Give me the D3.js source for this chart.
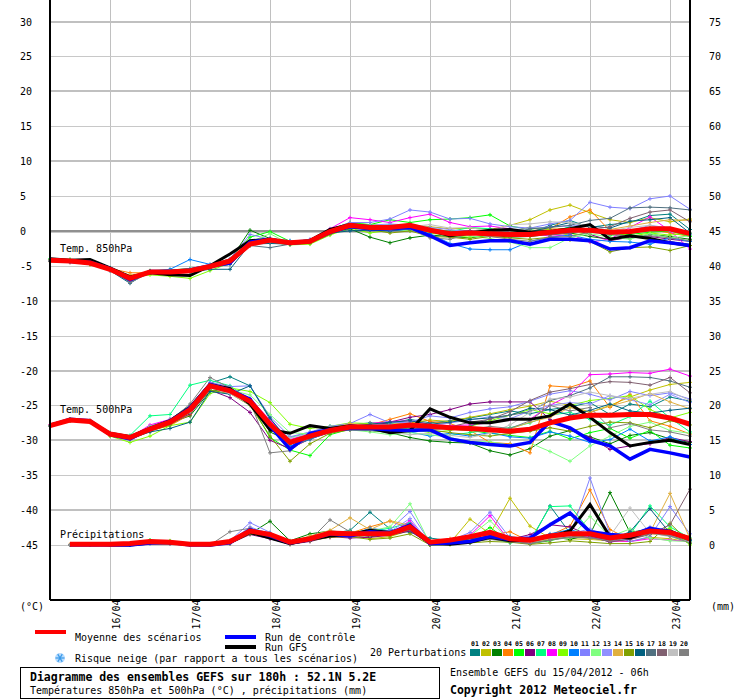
<!DOCTYPE html>
<html><head><meta charset="utf-8">
<script src="https://cdn.jsdelivr.net/npm/d3@7/dist/d3.min.js"></script>
<style>
html,body{margin:0;padding:0;background:#fff;}
svg{display:block;}
text{font-family:"DejaVu Sans Mono",monospace;font-size:10px;fill:#000;}
</style></head>
<body><svg id="c" width="740" height="700"></svg>
<script>
// ---- data ----
const hours = [0,6,12,18,24,30,36,42,48,54,60,66,72,78,84,90,96,102,108,114,120,126,132,138,144,150,156,162,168,174,180,186,192];
const dateLabels = ["16/04","17/04","18/04","19/04","20/04","21/04","22/04","23/04"];
const dateHours = [18,42,66,90,114,138,162,186];
const leftTicks = [30,25,20,15,10,5,0,-5,-10,-15,-20,-25,-30,-35,-40,-45];
const rightTicks = [75,70,65,60,55,50,45,40,35,30,25,20,15,10,5,0];
const pertNames = ["01","02","03","04","05","06","07","08","09","10","11","12","13","14","15","16","17","18","19","20"];
const pertColors = ["#008080","#c0c000","#008000","#ff8000","#00ff00","#800080","#00ff80","#ff00ff","#80ff00","#0080ff","#8080ff","#80ff80","#9090ff","#e0b040","#80a000","#006080","#507080","#806070","#c0c0c0","#808080"];

const mean850 = [-4.2,-4.3,-4.6,-5.5,-6.8,-5.9,-5.9,-5.7,-5.1,-4.3,-1.9,-1.3,-1.7,-1.5,-0.1,0.8,0.5,0.5,0.8,0.1,-0.4,-0.3,-0.4,-0.5,-0.5,-0.2,0.1,0.1,-0.2,-0.1,0.3,0.3,-0.4];
const ctrl850 = [-4.1,-4.4,-4.5,-5.4,-7.0,-5.8,-5.8,-5.6,-5.0,-4.6,-1.6,-1.2,-1.8,-1.5,-0.2,0.6,0.3,0.3,0.5,-0.7,-2.1,-1.7,-1.4,-1.4,-1.9,-1.2,-1.2,-1.4,-2.6,-2.4,-1.4,-1.7,-2.1];
const gfs850 = [-4.0,-4.2,-4.1,-5.3,-6.6,-6.0,-6.3,-6.4,-5.0,-3.3,-1.4,-1.2,-1.7,-1.4,0.2,0.9,0.6,0.4,0.6,0.1,-0.7,-0.3,0.1,0.2,-0.2,-0.1,0.3,0.9,-1.2,-0.7,-1.1,-1.7,-2.1];
const pert850 = [
[-4.3,-4.4,-4.7,-5.6,-7.3,-5.8,-5.7,-5.5,-5.2,-4.8,-1.8,-1.6,-1.9,-1.7,-0.3,0.4,0.2,0.6,1.0,0.3,-0.2,-0.5,0.0,0.3,-0.3,0.8,1.5,0.5,0.9,1.2,2.2,2.4,0.2],
[-4.2,-4.3,-4.6,-5.4,-6.5,-5.9,-6.0,-5.8,-5.2,-4.4,-2.0,-1.4,-1.6,-1.4,0.0,1.0,0.9,0.8,0.9,0.6,0.3,0.4,0.2,0.8,1.6,3.0,3.7,2.6,1.6,1.2,1.9,1.3,1.7],
[-4.1,-4.3,-4.7,-5.6,-6.7,-5.9,-5.8,-5.6,-5.3,-4.2,0.1,-1.1,-1.7,-1.6,-0.4,0.3,-0.9,-1.7,-1.0,-0.6,-0.8,-1.0,-0.6,-0.9,-0.8,-0.5,-0.3,-0.8,-1.2,-1.0,-0.5,-0.8,-1.2],
[-4.4,-4.5,-4.8,-5.4,-6.0,-6.0,-5.9,-5.8,-5.0,-4.5,-1.9,-1.5,-1.8,-1.5,-0.3,0.6,0.4,0.2,0.4,-0.2,-0.6,-0.4,-0.2,-0.6,-0.4,0.3,2.0,3.0,0.0,-0.4,0.2,-0.3,-0.8],
[-4.0,-4.1,-4.4,-5.3,-6.6,-5.7,-5.6,-5.4,-4.9,-4.0,-0.9,-0.1,-1.5,-1.3,0.2,1.2,0.9,1.6,1.2,1.6,1.7,1.9,2.3,0.7,0.2,-0.4,0.0,0.2,-0.6,-0.5,-0.2,0.0,-0.8],
[-4.3,-4.4,-4.6,-5.6,-6.9,-6.0,-5.9,-5.6,-5.1,-4.3,-1.7,-1.3,-1.6,-1.4,-0.1,0.9,0.3,0.6,0.9,0.1,-0.1,0.0,-0.3,-0.1,0.5,0.0,0.4,-0.5,-1.4,-0.9,-0.8,-1.2,-1.5],
[-4.0,-4.2,-4.5,-5.4,-6.8,-5.9,-5.7,-5.5,-5.0,-4.4,-2.1,-1.3,-1.8,-1.6,-0.2,0.7,0.5,0.9,0.6,0.4,-0.1,0.5,0.3,-0.3,-0.6,-0.2,0.6,0.2,-0.5,-0.1,0.5,0.1,-0.6],
[-4.2,-4.4,-4.6,-5.5,-6.9,-5.9,-5.8,-5.6,-5.3,-4.1,-1.7,-1.3,-1.6,-1.3,0.3,1.9,1.6,1.2,1.9,2.4,1.2,0.6,0.7,0.3,-0.2,-0.8,-0.5,-1.6,-1.2,0.5,2.0,0.0,-2.6],
[-4.3,-4.4,-4.8,-5.6,-6.6,-6.3,-6.5,-6.8,-5.7,-4.6,-2.0,-1.6,-2.0,-1.9,-0.6,0.4,-0.3,0.1,0.5,-0.3,-0.7,-0.9,-0.6,-0.2,0.5,0.2,-0.7,-0.2,0.2,-0.8,-0.3,-0.6,-0.3],
[-4.1,-4.3,-4.5,-5.3,-6.8,-5.8,-5.5,-4.1,-4.8,-4.3,-1.5,-1.1,-1.4,-1.5,0.0,0.7,0.3,0.0,0.2,-0.4,-1.8,-2.6,-2.7,-2.7,-1.5,-0.9,-0.6,-1.2,-1.5,-1.6,-1.9,-1.0,-1.5],
[-4.2,-4.3,-4.5,-5.4,-6.7,-5.8,-5.9,-5.5,-4.9,-4.0,-0.5,-1.2,-1.5,-1.2,0.2,1.2,1.2,1.7,3.0,2.7,1.7,1.8,1.0,0.6,0.4,1.0,1.5,4.1,3.4,3.2,4.6,5.0,3.1],
[-4.0,-4.1,-4.5,-5.4,-6.9,-6.0,-5.8,-5.7,-5.1,-4.5,-1.6,-0.4,-1.9,-1.7,-0.4,0.5,0.6,0.3,0.0,0.2,-0.4,-0.7,-1.1,-1.6,-2.4,-2.4,-1.0,-0.4,-0.9,-1.2,-0.4,-1.0,-0.7],
[-4.3,-4.5,-4.7,-5.5,-6.9,-6.0,-5.9,-5.5,-5.1,-4.3,-1.8,-1.5,-1.6,-1.4,0.0,1.0,0.8,1.0,0.8,0.5,0.2,-0.2,0.0,0.2,0.3,0.6,0.7,0.9,-0.4,0.0,0.8,0.4,-0.5],
[-4.2,-4.5,-4.8,-5.6,-6.3,-6.0,-6.0,-5.8,-5.2,-4.4,-2.1,-1.5,-1.7,-1.6,-0.2,0.7,0.6,0.3,0.5,0.0,-0.3,-0.3,-0.7,-0.3,0.0,0.4,0.3,-0.2,0.2,0.7,1.2,1.6,1.5],
[-4.1,-4.3,-4.7,-5.5,-6.8,-6.0,-5.9,-5.6,-5.1,-4.2,-2.0,-1.6,-1.9,-1.8,-0.5,0.5,0.2,-0.3,0.0,-0.8,-0.9,-1.2,-0.8,-1.0,-1.2,-0.9,-1.3,-1.5,-3.0,-2.4,-2.3,-2.8,-2.1],
[-4.3,-4.4,-4.6,-5.7,-7.5,-5.8,-5.7,-5.9,-5.5,-5.5,-1.9,-1.8,-1.9,-1.6,-0.3,0.0,0.1,0.0,0.3,-0.1,-0.5,-0.1,-0.4,-0.6,-0.1,0.5,1.2,0.7,0.4,1.4,1.6,1.9,-0.3],
[-4.2,-4.3,-4.7,-5.5,-7.3,-5.9,-6.0,-5.7,-5.3,-4.8,-2.1,-2.4,-1.9,-1.6,-0.1,0.6,0.3,0.2,0.6,0.0,-0.2,-0.1,-0.5,-0.4,0.3,0.5,0.8,1.5,1.8,3.3,3.4,3.3,3.0],
[-4.3,-4.4,-4.6,-5.5,-7.0,-5.9,-6.0,-5.7,-5.1,-4.3,-1.8,-1.4,-1.8,-1.5,-0.1,0.6,0.5,0.6,0.9,0.3,-0.5,-0.3,-0.2,0.0,-0.4,-0.6,-0.3,0.2,0.6,1.8,2.7,3.0,1.3],
[-4.2,-4.4,-4.6,-5.6,-7.1,-5.9,-5.8,-5.7,-5.2,-4.5,-1.9,-1.4,-1.7,-1.5,-0.2,0.7,0.5,0.4,0.6,0.9,0.4,0.5,-0.1,0.9,1.0,1.3,1.2,0.7,0.0,0.5,0.8,0.2,-0.2],
[-4.2,-4.3,-4.6,-5.5,-7.4,-6.0,-5.9,-5.6,-5.0,-4.4,-1.8,-1.6,-1.7,-1.5,0.0,0.5,0.3,0.1,0.3,-1.0,-1.2,-0.4,-0.8,-1.2,-1.5,-0.9,-0.8,-0.2,-0.5,-0.8,-0.7,-1.0,-1.4]
];

const mean500 = [-27.9,-27.1,-27.3,-29.1,-29.6,-28.4,-27.4,-25.6,-22.2,-22.9,-24.4,-27.7,-30.3,-29.4,-28.6,-28.1,-28.1,-28.1,-27.8,-28.0,-28.2,-28.3,-28.5,-28.7,-28.4,-27.5,-26.8,-26.4,-26.4,-26.3,-26.3,-26.8,-27.7];
const ctrl500 = [-27.9,-27.0,-27.2,-29.2,-29.8,-28.3,-27.3,-25.4,-22.0,-22.8,-24.1,-27.9,-31.3,-29.0,-28.5,-28.3,-28.3,-28.5,-28.6,-28.5,-29.8,-30.3,-30.6,-30.8,-30.3,-27.3,-28.2,-30.0,-30.8,-32.7,-31.3,-31.8,-32.4];
const gfs500 = [-27.8,-27.1,-27.3,-29.0,-29.5,-28.3,-27.2,-25.3,-22.0,-22.6,-24.8,-28.5,-29.0,-27.9,-28.3,-27.9,-28.2,-28.9,-28.6,-25.5,-26.7,-27.5,-27.5,-27.0,-27.0,-26.5,-24.8,-26.7,-28.9,-30.8,-30.3,-30.0,-30.6];
const pert500 = [
[-27.9,-27.0,-27.2,-29.0,-29.4,-28.0,-27.0,-25.0,-21.8,-20.9,-22.2,-27.0,-30.0,-29.0,-28.3,-27.8,-27.5,-27.6,-27.0,-27.5,-27.2,-26.8,-26.3,-25.8,-26.2,-25.6,-25.2,-24.6,-26.3,-24.8,-25.2,-23.8,-24.4],
[-27.8,-27.1,-27.4,-29.2,-29.8,-28.6,-27.6,-26.0,-22.5,-23.0,-24.6,-27.5,-30.6,-29.6,-28.8,-28.3,-28.0,-27.7,-27.5,-27.1,-27.3,-26.7,-26.2,-25.6,-25.1,-24.4,-25.0,-26.0,-25.0,-23.8,-22.8,-22.0,-21.7],
[-27.9,-27.2,-27.3,-29.1,-29.7,-28.4,-27.5,-26.5,-23.0,-22.6,-24.2,-28.8,-30.2,-29.2,-28.7,-28.4,-28.6,-28.9,-29.6,-30.1,-30.3,-30.4,-31.5,-32.1,-31.2,-29.4,-28.6,-29.5,-30.5,-29.3,-28.9,-29.8,-30.3],
[-27.9,-27.1,-27.3,-29.3,-29.6,-28.6,-27.9,-26.3,-22.4,-23.1,-24.8,-27.2,-30.6,-29.5,-28.2,-28.0,-27.8,-27.0,-26.2,-27.3,-27.6,-28.6,-30.3,-30.5,-31.8,-22.2,-22.4,-21.5,-25.3,-23.4,-27.2,-28.0,-29.1],
[-27.9,-27.0,-27.2,-28.9,-29.5,-28.2,-27.2,-25.4,-22.0,-22.7,-24.6,-29.6,-31.4,-32.2,-29.2,-28.4,-28.2,-27.7,-27.8,-28.1,-28.4,-28.6,-29.0,-29.3,-29.6,-28.7,-29.8,-28.9,-28.3,-29.7,-28.6,-30.7,-31.1],
[-27.9,-27.1,-27.3,-29.2,-29.7,-28.6,-27.7,-26.2,-22.8,-23.9,-26.0,-30.0,-31.2,-29.8,-28.9,-28.3,-28.0,-27.4,-26.7,-26.3,-25.6,-24.8,-24.5,-24.5,-24.5,-27.0,-28.5,-29.6,-31.3,-30.8,-30.5,-29.6,-30.2],
[-27.9,-27.0,-27.3,-29.0,-29.3,-26.5,-26.3,-22.1,-21.4,-22.2,-24.2,-28.1,-29.6,-28.9,-28.0,-27.9,-27.9,-28.3,-27.6,-28.8,-29.3,-28.9,-28.5,-28.2,-27.5,-26.4,-26.0,-27.0,-27.8,-26.6,-24.4,-26.8,-28.8],
[-27.8,-27.1,-27.2,-29.0,-29.6,-27.8,-27.0,-25.2,-22.0,-22.5,-24.0,-27.1,-29.9,-29.0,-28.2,-27.8,-27.6,-27.3,-27.2,-27.7,-27.9,-27.8,-27.5,-27.0,-27.0,-25.0,-23.5,-20.6,-20.5,-20.3,-20.4,-19.8,-20.8],
[-27.9,-27.2,-27.4,-29.4,-30.3,-29.4,-27.9,-27.4,-23.3,-22.5,-23.0,-24.6,-27.7,-28.3,-28.0,-27.5,-27.6,-27.9,-28.4,-28.9,-28.6,-28.0,-27.2,-26.4,-25.6,-26.2,-25.0,-24.3,-24.0,-23.6,-25.6,-26.8,-26.0],
[-27.9,-27.1,-27.3,-29.2,-29.7,-28.4,-27.3,-25.5,-22.1,-23.0,-24.5,-28.0,-30.8,-29.9,-28.7,-28.3,-28.6,-28.2,-28.8,-29.4,-29.0,-29.4,-28.9,-29.5,-29.7,-28.8,-29.4,-30.3,-29.9,-28.4,-30.1,-29.5,-30.6],
[-27.9,-27.1,-27.3,-29.0,-29.5,-28.1,-27.1,-25.3,-21.7,-22.3,-22.2,-26.6,-29.5,-28.8,-28.0,-27.6,-26.3,-27.5,-27.4,-26.5,-26.8,-26.0,-25.5,-25.2,-24.4,-23.4,-22.9,-23.4,-24.2,-23.0,-23.6,-23.2,-24.1],
[-27.9,-27.0,-27.2,-29.1,-29.6,-28.0,-27.2,-25.8,-22.5,-22.8,-23.5,-26.3,-28.9,-29.1,-28.5,-28.5,-28.8,-29.2,-28.9,-29.2,-29.6,-30.2,-30.2,-30.7,-30.4,-31.6,-33.0,-30.8,-29.4,-28.0,-27.4,-28.6,-29.0],
[-27.9,-27.1,-27.3,-29.1,-29.6,-28.2,-27.2,-25.5,-22.0,-22.6,-24.3,-27.4,-30.1,-29.2,-28.4,-28.0,-27.7,-27.8,-27.6,-27.9,-27.5,-27.1,-26.6,-26.9,-25.8,-25.0,-24.6,-24.8,-23.6,-24.2,-24.9,-23.4,-24.6],
[-27.9,-27.1,-27.3,-29.2,-29.7,-28.5,-27.5,-25.8,-22.3,-22.8,-24.5,-27.8,-30.4,-29.3,-28.3,-27.6,-27.9,-28.1,-27.9,-28.3,-28.1,-28.2,-28.9,-28.4,-27.4,-26.7,-25.3,-26.0,-25.1,-24.3,-23.3,-24.5,-25.5],
[-27.9,-27.1,-27.3,-29.3,-29.9,-28.7,-27.8,-26.0,-22.8,-23.3,-25.0,-29.4,-33.0,-30.5,-29.0,-28.5,-28.5,-28.4,-28.2,-28.5,-28.9,-29.2,-29.4,-29.0,-28.7,-28.2,-28.7,-28.0,-27.4,-27.5,-28.2,-27.2,-27.8],
[-27.9,-27.1,-27.3,-29.2,-29.8,-28.8,-28.3,-27.4,-23.0,-23.4,-22.2,-26.8,-30.4,-29.4,-28.5,-28.0,-27.7,-27.4,-27.2,-27.7,-27.4,-27.0,-26.8,-26.4,-25.4,-25.6,-26.4,-25.7,-24.8,-25.8,-26.1,-25.7,-25.4],
[-27.9,-27.1,-27.3,-29.1,-29.6,-28.5,-27.6,-25.9,-22.4,-22.9,-24.7,-28.2,-31.0,-29.8,-28.8,-28.4,-28.3,-28.2,-28.0,-28.2,-28.3,-28.0,-26.9,-26.4,-25.9,-24.3,-23.6,-22.5,-20.9,-20.9,-21.0,-21.5,-22.4],
[-27.9,-27.1,-27.3,-29.1,-29.6,-28.4,-27.4,-25.7,-22.2,-23.0,-24.6,-28.3,-30.2,-29.3,-28.6,-28.2,-28.1,-28.0,-28.2,-28.4,-28.1,-27.4,-27.0,-25.9,-24.3,-23.1,-22.6,-22.0,-21.6,-21.7,-22.1,-21.0,-23.2],
[-27.9,-27.1,-27.4,-29.2,-29.9,-28.5,-27.3,-25.9,-22.5,-23.3,-24.9,-28.1,-29.7,-29.0,-28.3,-28.0,-28.2,-28.8,-29.2,-29.0,-29.3,-29.6,-29.0,-27.8,-26.0,-24.1,-23.8,-23.1,-23.6,-24.0,-23.4,-23.0,-24.3],
[-27.9,-27.1,-27.3,-29.2,-29.8,-28.2,-27.2,-24.8,-21.0,-22.5,-24.4,-31.8,-31.5,-29.4,-28.7,-28.5,-28.6,-28.7,-28.6,-28.5,-28.3,-28.5,-28.0,-28.3,-27.2,-25.0,-25.8,-25.3,-28.2,-27.6,-28.5,-28.8,-29.4]
];

const meanPr = [null,0.1,0.1,0.1,0.2,0.5,0.4,0.1,0.1,0.5,2.0,1.5,0.4,0.9,1.7,1.6,1.6,1.6,2.6,0.4,0.7,1.2,1.8,0.9,0.7,1.3,1.6,1.6,1.0,1.4,2.0,1.8,0.9];
const ctrlPr = [null,0.0,0.0,0.0,0.0,0.3,0.4,0.0,0.0,0.3,2.2,1.3,0.3,0.8,1.6,1.3,1.9,1.7,2.9,0.2,0.3,0.5,1.2,0.8,1.0,2.9,4.6,1.9,1.5,1.3,2.4,1.9,0.9];
const gfsPr = [null,0.1,0.2,0.0,0.0,0.3,0.3,0.1,0.0,0.4,1.8,1.0,0.2,0.8,1.3,1.5,2.1,1.8,2.5,0.2,0.1,0.4,1.1,0.6,0.7,1.2,2.0,5.8,1.2,1.0,2.1,2.0,0.8];
const pertPr = [
[null,0.0,0.0,0.1,0.1,0.4,0.3,0.0,0.0,0.6,1.8,1.4,0.3,1.0,1.6,2.1,4.7,2.3,1.8,1.0,0.6,0.8,1.2,1.2,0.4,5.6,1.7,1.0,0.6,1.2,2.0,1.3,0.5],
[null,0.0,0.0,0.0,0.2,0.5,0.3,0.0,0.0,0.3,1.9,1.2,0.2,0.6,1.4,1.5,0.9,1.2,2.1,0.1,0.3,3.7,1.6,6.7,2.7,1.0,0.9,0.8,0.6,0.5,1.1,0.9,0.4],
[null,0.0,0.1,0.0,0.1,0.6,0.5,0.0,0.0,0.4,1.6,3.4,0.6,1.6,2.0,1.8,1.2,1.5,2.2,0.0,0.2,0.5,1.4,0.4,0.5,1.2,0.8,1.5,7.5,1.8,2.3,1.5,0.6],
[null,0.1,0.0,0.1,0.0,0.3,0.3,0.1,0.0,0.5,1.7,1.4,0.4,0.8,1.3,1.7,2.6,3.4,2.4,0.3,0.9,0.6,1.4,1.9,0.5,1.4,2.7,7.9,2.2,0.8,1.6,1.4,0.7],
[null,0.0,0.0,0.0,0.0,0.7,0.5,0.0,0.0,0.4,1.9,1.7,0.3,1.1,1.8,1.4,1.8,1.6,3.0,0.0,0.4,0.8,2.5,0.5,0.2,0.6,1.3,1.1,0.9,1.3,2.2,1.5,0.2],
[null,0.0,0.0,0.0,0.0,0.4,0.2,0.0,0.0,0.2,1.5,0.9,0.1,0.5,1.2,1.0,1.1,1.4,2.0,0.1,0.2,0.4,1.0,0.8,1.5,2.9,2.6,1.3,0.4,0.9,1.6,1.9,0.8],
[null,0.0,0.0,0.1,0.1,0.6,0.4,0.0,0.0,0.3,2.2,1.6,0.4,1.2,1.5,1.7,2.0,2.4,3.2,0.2,0.5,1.2,1.0,0.3,0.6,5.5,5.6,2.0,0.8,1.5,5.6,2.6,1.0],
[null,0.0,0.0,0.0,0.0,0.4,0.4,0.0,0.0,0.5,2.1,1.3,0.2,0.8,1.1,1.3,1.4,1.5,3.5,0.1,0.4,1.4,4.2,0.5,0.3,1.0,1.5,1.2,0.6,0.5,0.9,0.7,0.5],
[null,0.0,0.0,0.0,0.1,0.5,0.6,0.0,0.0,0.4,1.8,1.5,0.5,1.2,1.8,1.9,1.5,1.3,2.3,0.0,0.1,0.7,1.3,0.6,0.2,0.8,1.4,1.6,1.0,1.1,1.7,2.4,0.0],
[null,0.0,0.0,0.0,0.0,0.2,0.3,0.0,0.0,0.3,2.4,1.7,0.4,0.9,1.6,1.4,2.4,2.0,2.7,0.1,0.2,0.3,1.6,1.2,0.8,1.6,2.2,1.4,0.9,1.7,2.1,1.6,0.6],
[null,0.0,0.0,0.0,0.1,0.3,0.4,0.0,0.0,0.6,3.2,1.8,0.3,1.0,1.9,1.6,1.4,2.2,4.8,0.4,0.6,1.8,4.7,1.0,0.3,0.9,1.3,9.6,1.6,0.5,1.2,5.5,1.6],
[null,0.0,0.0,0.0,0.0,0.5,0.3,0.0,0.0,0.4,2.0,1.4,0.2,1.0,1.7,1.8,2.0,2.6,5.9,0.2,0.4,1.3,3.5,0.6,0.3,0.8,1.0,4.1,1.2,2.3,1.0,0.6,0.5],
[null,0.0,0.0,0.0,0.1,0.4,0.3,0.0,0.0,0.5,2.6,1.5,0.3,0.7,1.5,1.7,1.6,1.9,3.8,0.2,0.3,0.6,1.4,0.7,0.4,1.1,1.6,2.3,1.1,1.2,2.6,1.4,0.7],
[null,0.0,0.0,0.0,0.0,0.4,0.4,0.0,0.0,0.4,2.3,1.6,0.4,1.3,2.1,3.9,2.2,3.5,2.8,0.0,0.5,0.9,1.1,0.8,0.4,0.9,1.4,0.9,0.7,1.4,1.8,7.4,0.9],
[null,0.0,0.0,0.0,0.0,0.3,0.3,0.0,0.0,0.2,1.6,1.1,0.1,0.6,1.1,1.2,0.8,1.0,1.6,0.0,0.1,0.3,0.5,0.4,0.1,0.3,0.6,0.4,0.2,0.2,0.5,3.1,0.3],
[null,0.0,0.0,0.0,0.1,0.5,0.4,0.0,0.0,0.3,1.9,1.5,0.3,0.9,1.6,1.5,1.7,1.8,2.3,0.2,0.2,0.9,1.2,0.9,0.5,1.4,1.9,1.3,0.7,1.9,5.2,1.7,0.6],
[null,0.0,0.0,0.0,0.0,0.4,0.3,0.0,0.0,0.4,1.8,1.2,0.2,0.8,1.3,1.3,1.3,1.6,2.4,0.1,0.3,0.7,1.0,0.6,0.3,1.2,1.7,1.5,0.9,1.6,2.4,1.8,0.8],
[null,0.0,0.0,0.0,0.0,0.3,0.3,0.0,0.0,0.3,1.7,1.3,0.3,0.7,1.4,1.4,1.5,1.5,2.2,0.1,0.2,0.6,0.9,0.5,0.2,0.7,1.2,1.1,0.5,0.8,1.5,2.9,8.0],
[null,0.0,0.0,0.0,0.1,0.4,0.3,0.0,0.0,0.4,2.0,1.3,0.4,0.9,1.4,1.6,1.5,1.7,2.6,0.3,0.3,0.5,1.3,0.7,0.4,1.0,1.3,1.7,1.3,5.3,1.7,1.2,0.4],
[null,0.0,0.0,0.0,0.0,0.3,0.2,0.0,0.0,1.9,2.4,1.4,0.2,0.7,3.6,1.9,1.4,1.6,2.5,0.2,0.3,0.4,0.8,0.5,0.2,0.7,1.1,1.0,0.6,1.0,1.7,1.3,0.3]
];

// ---- chart ----
const svg = d3.select("#c");
const L = 50, R = 690, T = 0, B = 600;
const x = d3.scaleLinear().domain([0, 192]).range([L, R]);
const y = d3.scaleLinear().domain([30, -45]).range([21.5, 545]);   // temperature axis (°C)
const yR = d3.scaleLinear().domain([75, 0]).range([21.5, 545]);    // precipitation axis (mm)

const grid = svg.append("g").attr("shape-rendering", "crispEdges");
// vertical date lines
dateHours.forEach(h => {
  grid.append("line").attr("x1", x(h)).attr("x2", x(h)).attr("y1", T).attr("y2", B)
    .attr("stroke", "#c0c0c0").attr("stroke-width", 1);
});
// horizontal lines
leftTicks.forEach(v => {
  const yy = Math.round(y(v));
  if (v === 0) {
    grid.append("rect").attr("x", L).attr("y", yy - 1).attr("width", R - L).attr("height", 2).attr("fill", "#909090");
    grid.append("rect").attr("x", L).attr("y", yy + 1).attr("width", R - L).attr("height", 1).attr("fill", "#c8c8c8");
  } else if (v % 10 === 0) {
    grid.append("rect").attr("x", L).attr("y", yy - 1).attr("width", R - L).attr("height", 2).attr("fill", "#c0c0c0");
  } else {
    grid.append("rect").attr("x", L).attr("y", yy).attr("width", R - L).attr("height", 1).attr("fill", "#c8c8c8");
  }
});

// axis tick labels
leftTicks.forEach(v => {
  svg.append("text").attr("x", 20).attr("y", y(v) + 4).text(v);
});
rightTicks.forEach(v => {
  svg.append("text").attr("x", 709).attr("y", yR(v) + 4).text(v);
});
svg.append("text").attr("x", 20).attr("y", 610).text("(°C)");
svg.append("text").attr("x", 711).attr("y", 610).text("(mm)");

// date labels (rotated)
dateHours.forEach((h, i) => {
  svg.append("text").attr("transform", `translate(${x(h) + 10},629.5) rotate(-90)`).text(dateLabels[i]);
});

// section labels
svg.append("text").attr("x", 60).attr("y", 252).text("Temp. 850hPa");
svg.append("text").attr("x", 60).attr("y", 413).text("Temp. 500hPa");
svg.append("text").attr("x", 60).attr("y", 538).text("Précipitations");

// series drawing
const plot = svg.append("g");
function drawSeries(vals, yFn, color, width, crosses) {
  const pts = vals.map((v, i) => [hours[i], v]);
  const line = d3.line().defined(d => d[1] !== null).x(d => x(d[0])).y(d => yFn(d[1]));
  plot.append("path").attr("d", line(pts)).attr("fill", "none")
    .attr("stroke", color).attr("stroke-width", width).attr("stroke-linejoin", "miter");
  if (crosses) {
    let d = "";
    pts.forEach(p => {
      if (p[1] === null) return;
      const px = x(p[0]), py = yFn(p[1]);
      d += `M${px - 2},${py}h4M${px},${py - 2}v4`;
    });
    plot.append("path").attr("d", d).attr("stroke", color).attr("stroke-width", 1).attr("fill", "none");
  }
}
const yT = v => y(v);
const yP = v => yR(v);

[[pert850, gfs850, ctrl850, mean850, yT], [pert500, gfs500, ctrl500, mean500, yT], [pertPr, gfsPr, ctrlPr, meanPr, yP]]
  .forEach(([perts, gfs, ctrl, mean, fn]) => {
    perts.forEach((p, k) => drawSeries(p, fn, pertColors[k], 1, true));
    drawSeries(gfs, fn, "#000000", 3, false);
    drawSeries(ctrl, fn, "#0000ff", 3.5, false);
    drawSeries(mean, fn, "#ff0000", 5, false);
  });

// frame
const frame = svg.append("g").attr("shape-rendering", "crispEdges");
frame.append("line").attr("x1", L).attr("x2", L).attr("y1", T).attr("y2", B).attr("stroke", "#000").attr("stroke-width", 1.5);
frame.append("line").attr("x1", R).attr("x2", R).attr("y1", T).attr("y2", B).attr("stroke", "#000").attr("stroke-width", 1.5);
frame.append("line").attr("x1", L).attr("x2", R).attr("y1", B).attr("y2", B).attr("stroke", "#000").attr("stroke-width", 1.5);

// legend
const lg = svg.append("g");
lg.append("rect").attr("x", 35).attr("y", 630).attr("width", 31).attr("height", 4).attr("fill", "#ff0000");
lg.append("text").attr("x", 75).attr("y", 641).text("Moyenne des scénarios");
lg.append("rect").attr("x", 225).attr("y", 635).attr("width", 31).attr("height", 4).attr("fill", "#0000ff");
lg.append("text").attr("x", 265).attr("y", 641).text("Run de contrôle");
lg.append("rect").attr("x", 225).attr("y", 645).attr("width", 31).attr("height", 4).attr("fill", "#000000");
lg.append("text").attr("x", 265).attr("y", 651).text("Run GFS");
// snowflake
const sf = lg.append("g").attr("transform", "translate(60,658)");
sf.append("circle").attr("r", 5).attr("fill", "#b8dcff");
[0, 60, 120].forEach(a => {
  sf.append("line").attr("x1", -4.5).attr("x2", 4.5).attr("y1", 0).attr("y2", 0)
    .attr("stroke", "#3a9ae8").attr("stroke-width", 1.2).attr("transform", `rotate(${a})`);
});
lg.append("text").attr("x", 75).attr("y", 662).text("Risque neige (par rapport a tous les scénarios)");

// perturbation legend
lg.append("text").attr("x", 370).attr("y", 656).text("20 Perturbations");
pertNames.forEach((n, k) => {
  lg.append("rect").attr("x", 470 + 11 * k).attr("y", 649).attr("width", 10).attr("height", 7).attr("fill", pertColors[k]);
  lg.append("text").attr("x", 475 + 11 * k).attr("y", 646).attr("text-anchor", "middle")
    .style("font-size", "6.5px").style("font-weight", "bold").text(n);
});

// title box
lg.append("rect").attr("x", 20.5).attr("y", 667.5).attr("width", 419).attr("height", 31).attr("fill", "none").attr("stroke", "#000").attr("stroke-width", 1);
lg.append("text").attr("x", 30).attr("y", 681).style("font-weight", "bold").style("font-size", "11.5px")
  .text("Diagramme des ensembles GEFS sur 180h : 52.1N 5.2E");
lg.append("text").attr("x", 30).attr("y", 694).text("Températures 850hPa et 500hPa (°C) , précipitations (mm)");
lg.append("text").attr("x", 450).attr("y", 676).text("Ensemble GEFS du 15/04/2012 - 06h");
lg.append("text").attr("x", 450).attr("y", 694).style("font-weight", "bold").style("font-size", "11.5px")
  .text("Copyright 2012 Meteociel.fr");
</script></body></html>
